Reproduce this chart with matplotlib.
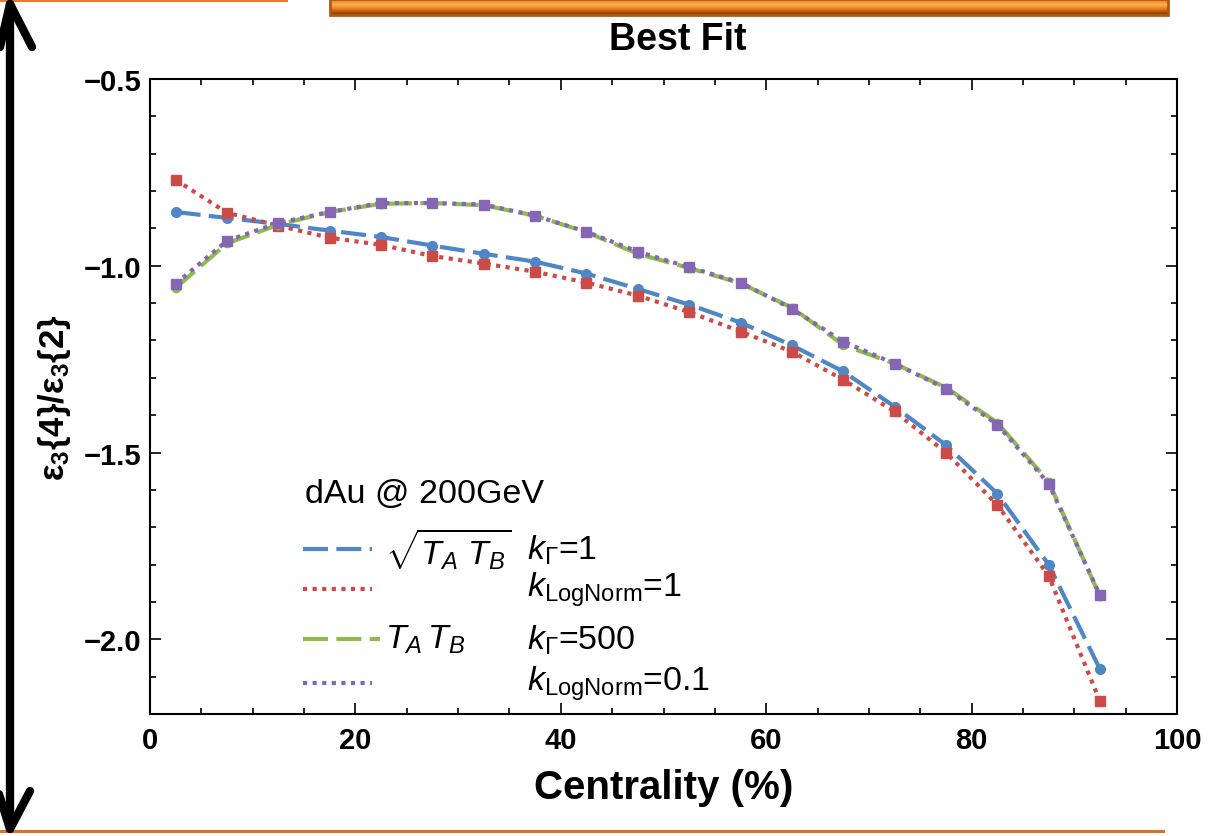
import numpy as np
import matplotlib
matplotlib.use("Agg")
import matplotlib.pyplot as plt
from matplotlib.patches import Rectangle
from matplotlib.ticker import MultipleLocator

plt.rcParams['font.family'] = ['Liberation Sans', 'DejaVu Sans']
plt.rcParams['mathtext.fontset'] = 'custom'
plt.rcParams['mathtext.rm'] = 'Liberation Sans'
plt.rcParams['mathtext.it'] = 'Liberation Sans:italic'
plt.rcParams['mathtext.bf'] = 'Liberation Sans:bold'

# centrality bins (%)
centrality = [2.5, 7.5, 12.5, 17.5, 22.5, 27.5, 32.5, 37.5, 42.5, 47.5,
              52.5, 57.5, 62.5, 67.5, 72.5, 77.5, 82.5, 87.5, 92.5]

# eps3{4}/eps3{2}
sqrt_gamma1 = [-0.856, -0.872, -0.888, -0.906, -0.923, -0.946, -0.968, -0.989, -1.021, -1.062,
               -1.104, -1.152, -1.213, -1.283, -1.377, -1.480, -1.610, -1.800, -2.080]
sqrt_lognorm1 = [-0.770, -0.858, -0.893, -0.925, -0.944, -0.974, -0.994, -1.016, -1.045, -1.080,
                 -1.124, -1.176, -1.230, -1.305, -1.390, -1.500, -1.640, -1.830, -2.166]
prod_gamma500 = [-1.059, -0.940, -0.890, -0.856, -0.834, -0.832, -0.838, -0.866, -0.910, -0.968,
                 -1.006, -1.047, -1.112, -1.212, -1.262, -1.326, -1.420, -1.578, -1.885]
prod_lognorm01 = [-1.048, -0.933, -0.885, -0.856, -0.832, -0.832, -0.836, -0.866, -0.909, -0.962,
                  -1.004, -1.045, -1.115, -1.203, -1.262, -1.329, -1.425, -1.583, -1.882]

c_blue = '#4F86C6'
c_red = '#CC4B47'
c_green = '#8DBB4C'
c_purple = '#8566B5'

dash_long = (0, (6, 2))
dot = (0, (1, 1.3))

fig = plt.figure(figsize=(12.16, 8.37), dpi=100)
ax = fig.add_axes([150 / 1216, 1 - 715 / 837, 1027 / 1216, 635 / 837])

ax.plot(centrality, sqrt_gamma1, color=c_blue, lw=3, linestyle=dash_long,
        marker='o', ms=7, zorder=3)
ax.plot(centrality, sqrt_lognorm1, color=c_red, lw=3, linestyle=dot,
        marker='s', ms=7, zorder=3)
ax.plot(centrality, prod_gamma500, color=c_green, lw=3, linestyle=dash_long,
        marker='o', ms=6, zorder=3)
ax.plot(centrality, prod_lognorm01, color=c_purple, lw=3, linestyle=dot,
        marker='s', ms=7, zorder=4)

ax.set_xlim(0, 100)
ax.set_ylim(-2.2, -0.5)
ax.xaxis.set_major_locator(MultipleLocator(20))
ax.xaxis.set_minor_locator(MultipleLocator(5))
ax.yaxis.set_major_locator(MultipleLocator(0.5))
ax.yaxis.set_minor_locator(MultipleLocator(0.1))
ax.tick_params(which='both', direction='in', top=True, right=True, width=1.2)
ax.tick_params(which='major', length=8, labelsize=21, pad=9)
ax.tick_params(which='minor', length=4)
ax.tick_params(axis='y', which='major', pad=6)
ax.set_yticks([-2.0, -1.5, -1.0, -0.5])
ax.set_yticklabels(['\u22122.0', '\u22121.5', '\u22121.0', '\u22120.5'])
for lab in ax.get_xticklabels() + ax.get_yticklabels():
    lab.set_fontweight('bold')
for sp in ax.spines.values():
    sp.set_linewidth(1.5)

ax.set_xlabel('Centrality (%)', fontsize=29, fontweight='bold', labelpad=10)
ax.set_ylabel(r'$\mathbf{\epsilon_3\{4\}/\epsilon_3\{2\}}$', fontsize=25, labelpad=8)

# legend block drawn in axes fraction
def fx(px):
    return (px - 150) / 1027

def fy(py):
    return (715 - py) / 635

ax.text(fx(305), fy(495), 'dAu @ 200GeV', fontsize=24.5, va='center', ha='left',
        transform=ax.transAxes)
leg_rows = [
    (550, c_blue, dash_long, r'$\sqrt{T_A\ T_B}$', r'$k_\Gamma$=1', 372),
    (590, c_red, dot, '', r'$k_\mathrm{LogNorm}$=1', 372),
    (640, c_green, dash_long, r'$T_A\,T_B$', r'$k_\Gamma$=500', 380),
    (684, c_purple, dot, '', r'$k_\mathrm{LogNorm}$=0.1', 372),
]
for py, col, ls, lab1, lab2, xend in leg_rows:
    ax.plot([fx(303), fx(xend)], [fy(py), fy(py)], color=col, lw=3, linestyle=ls,
            transform=ax.transAxes, clip_on=False)
    if lab1:
        ax.text(fx(385), fy(py), lab1, fontsize=24.5, va='center', ha='left',
                transform=ax.transAxes)
    ax.text(fx(527), fy(py), lab2, fontsize=24.5, va='center', ha='left',
            transform=ax.transAxes)

# slide decorations (pixel overlay)
ov = fig.add_axes([0, 0, 1, 1], zorder=-1)
ov.set_xlim(0, 1216)
ov.set_ylim(837, 0)
ov.axis('off')
ov.add_patch(Rectangle((0, 0), 288, 3, color='#E87A2A', lw=0))
ov.add_patch(Rectangle((0, 831), 1165, 3, color='#E07020', lw=0))
grad = np.array([[0.55], [0.8], [1.0], [0.75], [0.5], [0.2], [0.0]])
ov.imshow(grad, cmap=matplotlib.colors.LinearSegmentedColormap.from_list(
    'og', ['#8A4008', '#E87814', '#FFB257']), extent=(330, 1168, 16, 0),
    aspect='auto', interpolation='bicubic', zorder=1)
ov.add_patch(Rectangle((330, 0), 838, 16, fill=False, ec='#B05A12', lw=2, zorder=2))
ov.text(678, 40, 'Best Fit', fontsize=27, fontweight='bold', ha='center', va='center')

# double-headed arrow on the left
ov.plot([10, 10], [5, 830], color='black', lw=6, solid_capstyle='round')
ov.plot([0, 10, 32], [48, 5, 48], color='black', lw=6, solid_capstyle='round',
        solid_joinstyle='round')
ov.plot([-2, 10, 30], [792, 830, 792], color='black', lw=6, solid_capstyle='round',
        solid_joinstyle='round')

fig.savefig('out.png', dpi=100)
